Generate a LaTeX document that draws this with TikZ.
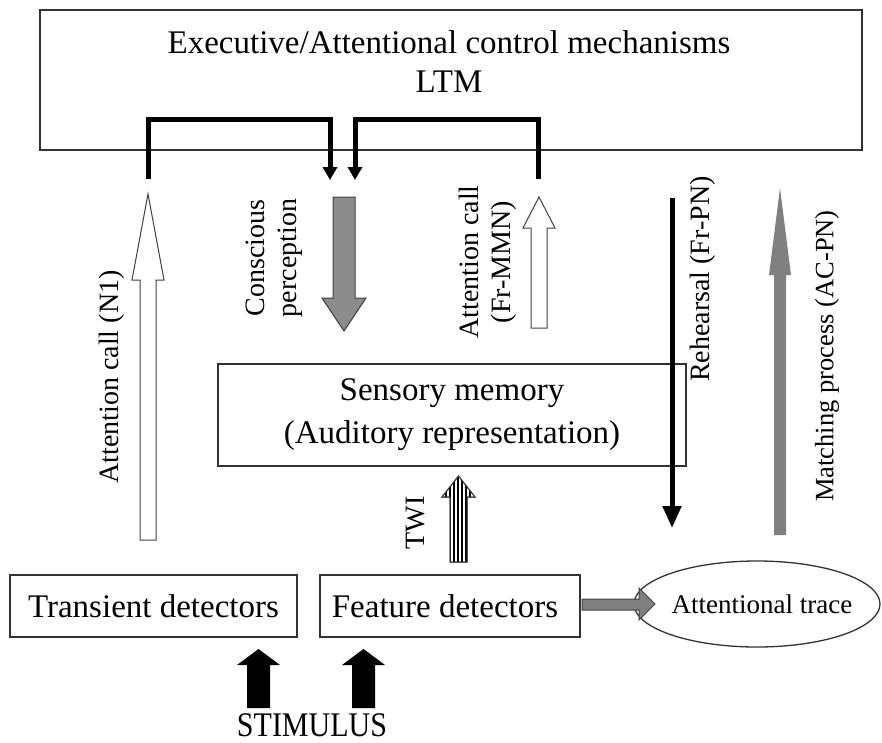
\documentclass[tikz,border=0pt]{standalone}
\usepackage{fontspec}
\setmainfont{Liberation Serif}
\usetikzlibrary{shapes.geometric,arrows.meta}
\begin{document}
\begin{tikzpicture}[x=1pt,y=-1pt,
  box/.style={draw=black!80, line width=1.3pt, inner sep=0pt},
  big/.style={font=\fontsize{33}{38}\selectfont, inner sep=0pt},
  side/.style={font=\fontsize{28}{32}\selectfont, inner sep=0pt, rotate=90, align=center},
  hollow/.style={draw=black!75, line width=1pt, fill=white, line join=miter},
  bracket/.style={line width=5pt, line join=miter, -{Triangle[width=14pt,length=13pt]}}]
\useasboundingbox (0,0) rectangle (882,742);
\fill[white] (0,0) rectangle (882,742);

% boxes
\node[box, minimum width=822pt, minimum height=140pt] (exec) at (451,80) {};
\node[big] (exect) at (449,42) {Executive/Attentional control mechanisms};
\node[big] (ltm) at (449,82) {LTM};

\node[box, minimum width=468pt, minimum height=102pt] (sens) at (452,415) {};
\node[big] (senst1) at (452,393) {Sensory memory};
\node[big] (senst2) at (452,436) {(Auditory representation)};

\node[box, minimum width=287pt, minimum height=62pt] (trans) at (153.5,606) {};
\node[big] at (trans) {Transient detectors};

\node[box, minimum width=260pt, minimum height=62pt] (feat) at (450,606) {};
\node[big] at (445,606) {Feature detectors};

\node[box, ellipse, minimum width=246pt, minimum height=86pt] (trace) at (757,604) {};
\node[font=\fontsize{27}{30}\selectfont, inner sep=0pt] at (762,604) {Attentional trace};

% brackets from/to executive box
\coordinate (b1a) at (148,179);
\coordinate (b1b) at (330,180);
\coordinate (b2a) at (538,179);
\coordinate (b2b) at (355,180);
\draw[bracket] (b1a) -- (148,119) -- (330,119) -- (b1b);
\draw[bracket] (b2a) -- (538,119) -- (355,119) -- (b2b);

% Attention call (N1)
\draw[hollow] (140,540) -- (140,280) -- (132,280) -- (148,194) -- (164,280) -- (156,280) -- (156,540) -- cycle;
\node[side] at (112,377) {Attention call (N1)};

% Conscious perception
\draw[draw=black!75, line width=1pt, fill=black!45] (333,197) -- (333,298) -- (322,298) -- (344,331) -- (366,298) -- (355,298) -- (355,197) -- cycle;
\node[side] at (274,258) {Conscious\\perception};

% Attention call (Fr-MMN)
\draw[hollow] (531,328) -- (531,228) -- (523,228) -- (539,197) -- (555,228) -- (547,228) -- (547,328) -- cycle;
\node[side] at (488,262) {Attention call\\(Fr-MMN)};

% TWI
\draw[hollow] (450,562) -- (450,497) -- (442,497) -- (458.5,476) -- (475,497) -- (467,497) -- (467,562) -- cycle;
\begin{scope}
\clip (450,562) -- (450,497) -- (442,497) -- (458.5,476) -- (475,497) -- (467,497) -- (467,562) -- cycle;
\foreach \xx in {446,450,454,458,462,466,470} \draw[line width=1.2pt] (\xx,470) -- (\xx,565);
\end{scope}
\draw[draw=black!75, line width=1pt] (450,562) -- (450,497) -- (442,497) -- (458.5,476) -- (475,497) -- (467,497) -- (467,562) -- cycle;
\node[side] at (416,523) {TWI};

% Rehearsal
\coordinate (rh1) at (672,198);
\coordinate (rh2) at (672,528);
\draw[line width=5pt, -{Triangle[width=18pt,length=22pt]}] (rh1) -- (rh2);
\node[side] at (703,279) {Rehearsal (Fr-PN)};

% Matching process
\fill[black!50] (774,535) -- (774,275) -- (769,275) -- (780,188) -- (791,275) -- (786,275) -- (786,535) -- cycle;
\node[side, font=\fontsize{26.5}{30}\selectfont] at (827,356) {Matching process (AC-PN)};

% feature -> trace
\draw[draw=black!75, line width=1pt, fill=black!50] (582,599) -- (639,599) -- (639,588) -- (655,604) -- (639,620) -- (639,610) -- (582,610) -- cycle;

% stimulus arrows
\fill[black] (247,708) -- (247,665) -- (237,665) -- (258.5,649) -- (280,665) -- (270,665) -- (270,708) -- cycle;
\fill[black] (352,708) -- (352,665) -- (342,665) -- (363.5,649) -- (385,665) -- (375,665) -- (375,708) -- cycle;
\node[inner sep=0pt, font=\fontsize{30}{34}\selectfont] (stim) at (312,725) {\scalebox{1}[1.15]{STIMULUS}};
\end{tikzpicture}
\end{document}
